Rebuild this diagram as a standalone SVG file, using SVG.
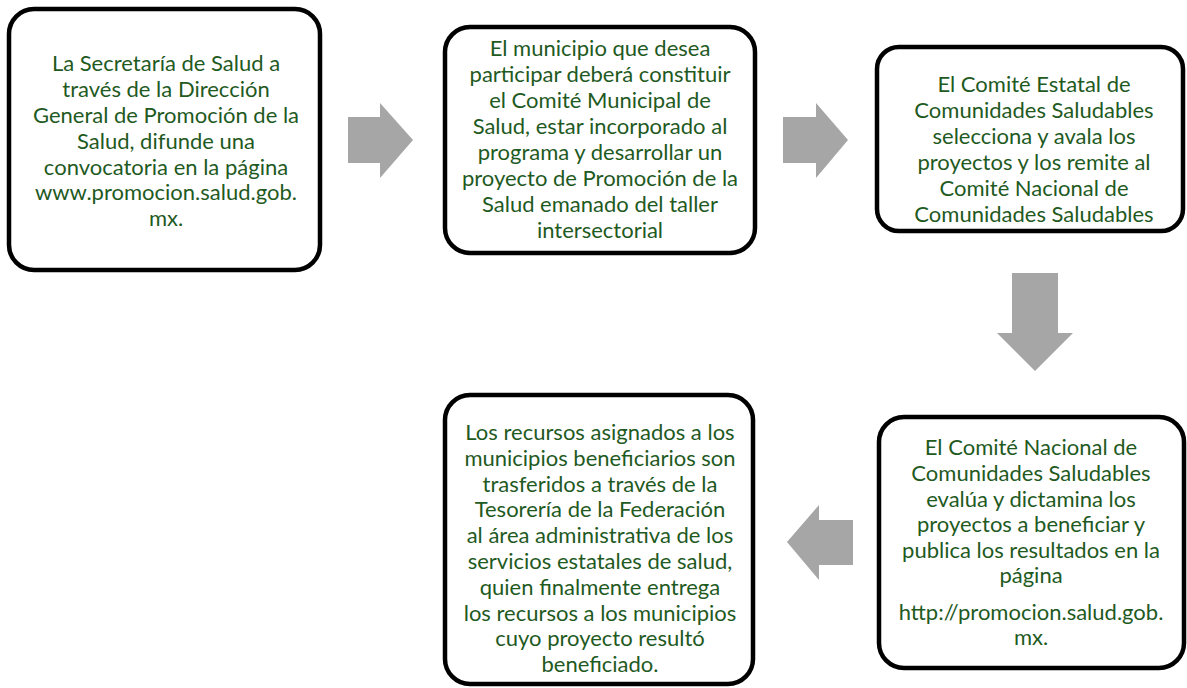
<svg xmlns="http://www.w3.org/2000/svg" width="1187" height="688" viewBox="0 0 1187 688">
<style>
.box{fill:#ffffff;stroke:#000000;stroke-width:4.5}
.t{font-family:Lato,"Open Sans","Liberation Sans",sans-serif;font-size:22px;fill:#1f5a1f;text-anchor:middle}
.arr{fill:#a6a6a6}
</style>
<rect width="1187" height="688" fill="#ffffff"/>
<g id="connectors">
<polygon class="arr" points="348,117 380,117 380,103 413,140 380,178 380,163 348,163"/>
<polygon class="arr" points="783,117 816,117 816,103 848,140 816,178 816,163 783,163"/>
<polygon class="arr" points="1012,273 1058,273 1058,333 1073,333 1035,371 997,333 1012,333"/>
<polygon class="arr" points="853,520 853,565 819,565 819,580 787,542 819,505 819,520"/>
</g>
<g id="node1">
<rect class="box" x="9" y="9" width="311" height="261" rx="25"/>
<text class="t"><tspan x="166" y="71">La Secretaría de Salud a</tspan><tspan x="166" y="97">través de la Dirección</tspan><tspan x="166" y="123">General de Promoción de la</tspan><tspan x="166" y="149">Salud, difunde una</tspan><tspan x="166" y="175">convocatoria en la página</tspan><tspan x="166" y="200">www.promocion.salud.gob.</tspan><tspan x="166" y="226">mx.</tspan></text>
</g>
<g id="node2">
<rect class="box" x="445" y="27" width="310" height="226" rx="25"/>
<text class="t"><tspan x="600" y="56">El municipio que desea</tspan><tspan x="600" y="82">participar deberá constituir</tspan><tspan x="600" y="108">el Comité Municipal de</tspan><tspan x="600" y="134">Salud, estar incorporado al</tspan><tspan x="600" y="160">programa y desarrollar un</tspan><tspan x="600" y="186">proyecto de Promoción de la</tspan><tspan x="600" y="212">Salud emanado del taller</tspan><tspan x="600" y="238">intersectorial</tspan></text>
</g>
<g id="node3">
<rect class="box" x="877" y="47" width="306" height="184" rx="22"/>
<text class="t"><tspan x="1034" y="92">El Comité Estatal de</tspan><tspan x="1034" y="118">Comunidades Saludables</tspan><tspan x="1034" y="144">selecciona y avala los</tspan><tspan x="1034" y="170">proyectos y los remite al</tspan><tspan x="1034" y="196">Comité Nacional de</tspan><tspan x="1034" y="222">Comunidades Saludables</tspan></text>
</g>
<g id="node4">
<rect class="box" x="879" y="417" width="305" height="251" rx="25"/>
<text class="t"><tspan x="1031" y="455">El Comité Nacional  de</tspan><tspan x="1031" y="481">Comunidades Saludables</tspan><tspan x="1031" y="507">evalúa y dictamina los</tspan><tspan x="1031" y="532">proyectos a beneficiar y</tspan><tspan x="1031" y="558">publica los resultados en la</tspan><tspan x="1031" y="583">página</tspan><tspan x="1031" y="620">http://promocion.salud.gob.</tspan><tspan x="1031" y="645">mx.</tspan></text>
</g>
<g id="node5">
<rect class="box" x="445" y="395" width="308" height="289" rx="25"/>
<text class="t"><tspan x="600" y="440">Los recursos asignados a los</tspan><tspan x="600" y="466">municipios beneficiarios son</tspan><tspan x="600" y="492">trasferidos a través de la</tspan><tspan x="600" y="517">Tesorería de la Federación</tspan><tspan x="600" y="543">al área administrativa de los</tspan><tspan x="600" y="569">servicios estatales de salud,</tspan><tspan x="600" y="595">quien finalmente entrega</tspan><tspan x="600" y="621">los recursos a los municipios</tspan><tspan x="600" y="646">cuyo proyecto resultó</tspan><tspan x="600" y="672">beneficiado.</tspan></text>
</g>
</svg>
